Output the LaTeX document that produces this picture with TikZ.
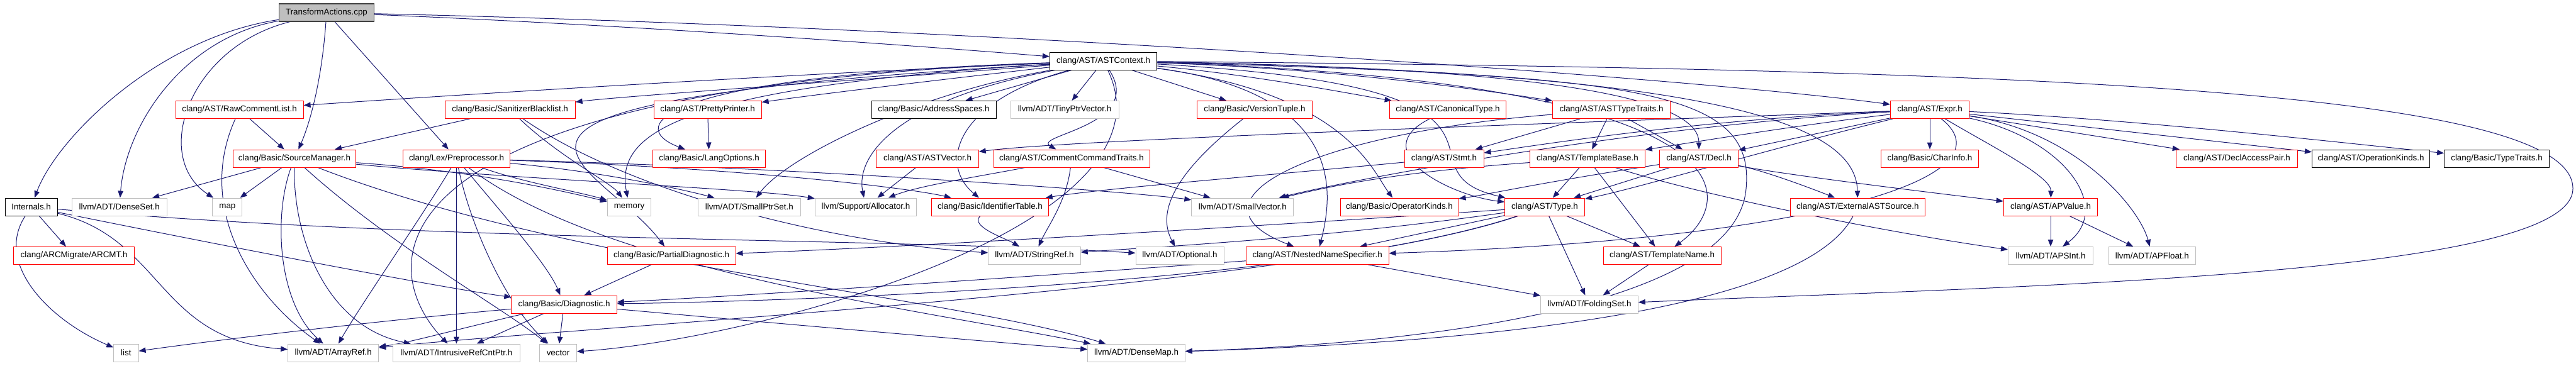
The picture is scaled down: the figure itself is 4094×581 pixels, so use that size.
\documentclass[tikz,border=0pt]{standalone}
\usepackage{fontspec}
\setmainfont{Liberation Sans}
\usetikzlibrary{arrows.meta}
\definecolor{edgec}{HTML}{191970}
\definecolor{grayb}{HTML}{BFBFBF}
\definecolor{redb}{HTML}{FF0000}
\definecolor{mainf}{HTML}{BFBFBF}
\pgfdeclarelayer{edges}
\pgfsetlayers{edges,main}
\begin{document}
\begin{tikzpicture}[x=1pt,y=-1pt,
  nd/.style={draw, rectangle, minimum height=28pt, inner sep=0pt, fill=white,
    font=\fontsize{13.4}{16}\selectfont, line width=1pt},
  rd/.style={nd, draw=redb},
  gr/.style={nd, draw=grayb},
  bk/.style={nd, draw=black},
  mn/.style={nd, draw=black!75, fill=mainf, line width=1.4pt},
  e/.style={draw=edgec, line width=1pt, -{Triangle[length=11pt,width=8.5pt]}},
]
\useasboundingbox (0,0) rectangle (4094,581);
% row 0
\node[mn, minimum width=151pt] (ta) at (519,20) {TransformActions.cpp};
% row 1
\node[bk, minimum width=170.5pt] (ctx) at (1753.6,97) {clang/AST/ASTContext.h};
% row 2
\node[rd, minimum width=203pt] (rcl) at (380.6,174.5) {clang/AST/RawCommentList.h};
\node[rd, minimum width=207pt] (sbl) at (810.6,174.5) {clang/Basic/SanitizerBlacklist.h};
\node[rd, minimum width=171pt] (pp) at (1124.6,174.5) {clang/AST/PrettyPrinter.h};
\node[bk, minimum width=198pt] (as) at (1484,174.5) {clang/Basic/AddressSpaces.h};
\node[gr, minimum width=172pt] (tpv) at (1692,174.5) {llvm/ADT/TinyPtrVector.h};
\node[rd, minimum width=183pt] (vt) at (1994,174.5) {clang/Basic/VersionTuple.h};
\node[rd, minimum width=185pt] (ct) at (2301,174.5) {clang/AST/CanonicalType.h};
\node[rd, minimum width=187pt] (att) at (2561,174.5) {clang/AST/ASTTypeTraits.h};
\node[rd, minimum width=125pt] (expr) at (3067,174.5) {clang/AST/Expr.h};
% row 3
\node[rd, minimum width=195.5pt] (sm) at (468,252) {clang/Basic/SourceManager.h};
\node[rd, minimum width=170pt] (pre) at (725.6,252) {clang/Lex/Preprocessor.h};
\node[rd, minimum width=178.5pt] (lo) at (1127,252) {clang/Basic/LangOptions.h};
\node[rd, minimum width=162.5pt] (astv) at (1474,252) {clang/AST/ASTVector.h};
\node[rd, minimum width=248pt] (cct) at (1703,252) {clang/AST/CommentCommandTraits.h};
\node[rd, minimum width=126pt] (stmt) at (2295,252) {clang/AST/Stmt.h};
\node[rd, minimum width=182.6pt] (tb) at (2523,252) {clang/AST/TemplateBase.h};
\node[rd, minimum width=125pt] (decl) at (2700,252) {clang/AST/Decl.h};
\node[rd, minimum width=155pt] (ci) at (3067,252) {clang/Basic/CharInfo.h};
\node[rd, minimum width=192.6pt] (dap) at (3555,252) {clang/AST/DeclAccessPair.h};
\node[bk, minimum width=187pt] (opk2) at (3768,252) {clang/AST/OperationKinds.h};
\node[bk, minimum width=166.7pt] (tt) at (3968,252) {clang/Basic/TypeTraits.h};
% row 4
\node[bk, minimum width=83pt] (int) at (49.6,329) {Internals.h};
\node[gr, minimum width=151pt] (ds) at (189.7,329) {llvm/ADT/DenseSet.h};
\node[gr, minimum width=47pt] (map) at (361.4,329) {map};
\node[gr, minimum width=69.6pt] (mem) at (1000,329) {memory};
\node[gr, minimum width=162.5pt] (spt) at (1190.8,329) {llvm/ADT/SmallPtrSet.h};
\node[gr, minimum width=161.4pt] (alloc) at (1376,329) {llvm/Support/Allocator.h};
\node[rd, minimum width=186.2pt] (it) at (1573.5,329) {clang/Basic/IdentifierTable.h};
\node[gr, minimum width=162pt] (sv) at (1974.8,329) {llvm/ADT/SmallVector.h};
\node[rd, minimum width=188pt] (opk) at (2224,329) {clang/Basic/OperatorKinds.h};
\node[rd, minimum width=127pt] (type) at (2455,329) {clang/AST/Type.h};
\node[rd, minimum width=213.4pt] (eas) at (2952.4,329) {clang/AST/ExternalASTSource.h};
\node[rd, minimum width=149.6pt] (apv) at (3259,329) {clang/AST/APValue.h};
% row 5
\node[rd, minimum width=192.4pt] (arcmt) at (117.6,406.5) {clang/ARCMigrate/ARCMT.h};
\node[rd, minimum width=204pt] (pd) at (1067,406.5) {clang/Basic/PartialDiagnostic.h};
\node[gr, minimum width=146.4pt] (sr) at (1644,406.5) {llvm/ADT/StringRef.h};
\node[gr, minimum width=140pt] (opt) at (1875,406.5) {llvm/ADT/Optional.h};
\node[rd, minimum width=226.6pt] (nns) at (2093.7,406.5) {clang/AST/NestedNameSpecifier.h};
\node[rd, minimum width=187pt] (tn) at (2641.6,406.5) {clang/AST/TemplateName.h};
\node[gr, minimum width=135pt] (apsi) at (3259,406.5) {llvm/ADT/APSInt.h};
\node[gr, minimum width=138.8pt] (apf) at (3420.4,406.5) {llvm/ADT/APFloat.h};
% row 6
\node[rd, minimum width=167.4pt] (diag) at (896.5,484) {clang/Basic/Diagnostic.h};
\node[gr, minimum width=154.5pt] (fs) at (2526,484) {llvm/ADT/FoldingSet.h};
% row 7
\node[gr, minimum width=39.3pt] (list) at (200.4,561) {list};
\node[gr, minimum width=144pt] (ar) at (529.7,561) {llvm/ADT/ArrayRef.h};
\node[gr, minimum width=201.6pt] (ircp) at (725.4,561) {llvm/ADT/IntrusiveRefCntPtr.h};
\node[gr, minimum width=58.5pt] (vec) at (887,561) {vector};
\node[gr, minimum width=154.5pt] (dm) at (1806,561) {llvm/ADT/DenseMap.h};

\begin{pgfonlayer}{edges}
% TransformActions.cpp
\draw[e] (ta) .. controls (250,60) and (90,220) .. (int);
\draw[e] (ta) .. controls (290,60) and (200,200) .. (ds);
\draw[e] (ta) .. controls (300,75) and (240,250) .. (map);
\draw[e] (ta) .. controls (512,120) and (495,190) .. (sm);
\draw[e] (ta) -- (pre);
\draw[e] (ta) .. controls (1000,40) and (1450,72) .. (ctx);
\draw[e] (ta) .. controls (1600,45) and (2700,125) .. (expr);
% Internals.h
\draw[e] (int) -- (arcmt);
\draw[e] (int) .. controls (-10,420) and (80,510) .. (list);
\draw[e] (int) .. controls (260,380) and (250,540) .. (ar);
\draw[e] (int) .. controls (700,385) and (1400,378) .. (opt);
\draw[e] (int) .. controls (450,410) and (720,460) .. (diag);
% RawCommentList.h
\draw[e] (rcl) -- (sm);
\draw[e] (rcl) .. controls (310,330) and (400,470) .. (ar);
% SourceManager.h
\draw[e] (sm) -- (ds);
\draw[e] (sm) -- (map);
\draw[e] (sm) .. controls (435,340) and (440,480) .. (ar);
\draw[e] (sm) .. controls (466,380) and (520,520) .. (ircp);
\draw[e] (sm) .. controls (620,390) and (800,490) .. (vec);
\draw[e] (sm) .. controls (900,420) and (1500,470) .. (dm);
\draw[e] (sm) .. controls (760,272) and (900,305) .. (mem);
\draw[e] (sm) .. controls (820,285) and (1200,300) .. (alloc);
% SanitizerBlacklist.h
\draw[e] (sbl) -- (sm);
\draw[e] (sbl) .. controls (890,250) and (970,290) .. (mem);
\draw[e] (sbl) .. controls (990,300) and (1300,385) .. (sr);
% PrettyPrinter.h
\draw[e] (pp) -- (lo);
% Preprocessor.h
\draw[e] (pre) .. controls (680,330) and (570,490) .. (ar);
\draw[e] (pre) -- (ircp);
\draw[e] (pre) .. controls (745,350) and (800,480) .. (vec);
\draw[e] (pre) .. controls (790,330) and (870,420) .. (diag);
\draw[e] (pre) .. controls (830,290) and (920,305) .. (mem);
\draw[e] (pre) .. controls (960,430) and (1450,490) .. (dm);
\draw[e] (pre) .. controls (950,272) and (1080,300) .. (spt);
\draw[e] (pre) .. controls (1200,268) and (1450,300) .. (it);
\draw[e] (pre) .. controls (1300,268) and (1800,305) .. (sv);
% ASTContext.h, left side
\draw[e] (ctx) .. controls (1200,120) and (620,158) .. (rcl);
\draw[e] (ctx) .. controls (1400,125) and (1000,152) .. (sbl);
\draw[e] (ctx) .. controls (1450,132) and (1300,150) .. (pp);
\draw[e] (ctx) .. controls (1050,120) and (990,200) .. (lo);
\draw[e] (ctx) .. controls (1050,140) and (980,220) .. (mem);
\draw[e] (ctx) .. controls (580,140) and (590,420) .. (ircp);
\draw[e] (ctx) .. controls (600,165) and (950,250) .. (pd);
\draw[e] (ctx) .. controls (1420,160) and (1360,250) .. (alloc);
\draw[e] (ctx) .. controls (1450,150) and (1250,250) .. (spt);
\draw[e] (ctx) .. controls (1520,160) and (1490,260) .. (it);
\draw[e] (ctx) -- (as);
\draw[e] (ctx) -- (tpv);
\draw[e] (ctx) -- (vt);
\draw[e] (ctx) .. controls (1820,200) and (1640,215) .. (cct);
\draw[e] (ctx) .. controls (1880,360) and (1200,540) .. (vec);
% ASTContext.h, right side
\draw[e] (ctx) .. controls (2000,120) and (2150,150) .. (ct);
\draw[e] (ctx) .. controls (2150,110) and (2400,150) .. (att);
\draw[e] (ctx) .. controls (2700,115) and (2950,190) .. (eas);
\draw[e] (ctx) .. controls (2550,110) and (2700,170) .. (decl);
\draw[e] (ctx) .. controls (2500,140) and (2200,270) .. (type);
\draw[e] (ctx) .. controls (2150,150) and (2115,320) .. (nns);
\draw[e] (ctx) .. controls (2140,150) and (2180,270) .. (opk);
\draw[e] (ctx) .. controls (2800,130) and (2760,320) .. (tn);
\draw[e] (ctx) .. controls (2600,120) and (2790,140) .. (2775,300) .. controls (2760,480) and (2300,545) .. (dm);
\draw[e] (ctx) .. controls (3200,110) and (4090,140) .. (4089,300) .. controls (4089,440) and (3200,455) .. (fs);
% smaller headers
\draw[e] (astv) -- (alloc);
\draw[e] (cct) .. controls (1560,280) and (1460,295) .. (alloc);
\draw[e] (cct) .. controls (1695,320) and (1665,360) .. (sr);
\draw[e] (cct) -- (sv);
\draw[e] (vt) .. controls (1860,280) and (1840,340) .. (opt);
\draw[e] (ct) .. controls (2170,240) and (2300,310) .. (type);
\draw[e] (att) -- (stmt);
\draw[e] (att) -- (tb);
\draw[e] (att) -- (decl);
\draw[e] (att) .. controls (2080,213) and (1870,320) .. (nns);
% Expr.h
\draw[e] (expr) .. controls (2700,190) and (2450,230) .. (stmt);
\draw[e] (expr) .. controls (2850,200) and (2700,225) .. (tb);
\draw[e] (expr) -- (decl);
\draw[e] (expr) .. controls (2800,240) and (2600,300) .. (type);
\draw[e] (expr) .. controls (2600,200) and (2150,285) .. (sv);
\draw[e] (expr) .. controls (2500,195) and (1700,222) .. (astv);
\draw[e] (expr) .. controls (3200,280) and (2900,380) .. (nns);
\draw[e] (expr) -- (ci);
\draw[e] (expr) -- (dap);
\draw[e] (expr) -- (opk2);
\draw[e] (expr) .. controls (3400,190) and (3750,230) .. (tt);
\draw[e] (expr) .. controls (3160,230) and (3260,280) .. (apv);
\draw[e] (expr) .. controls (3280,220) and (3360,330) .. (apsi);
\draw[e] (expr) .. controls (3300,210) and (3400,330) .. (apf);
% others
\draw[e] (it) .. controls (1540,360) and (1600,380) .. (sr);
\draw[e] (stmt) .. controls (2000,280) and (1750,300) .. (it);
\draw[e] (tb) .. controls (2200,275) and (2100,300) .. (sv);
\draw[e] (tb) -- (type);
\draw[e] (tb) -- (tn);
\draw[e] (tb) .. controls (2700,310) and (3000,370) .. (apsi);
\draw[e] (decl) -- (type);
\draw[e] (decl) .. controls (2800,270) and (2880,300) .. (eas);
\draw[e] (decl) .. controls (2850,280) and (3100,310) .. (apv);
\draw[e] (decl) .. controls (2450,290) and (2360,310) .. (opk);
\draw[e] (type) -- (nns);
\draw[e] (type) -- (tn);
\draw[e] (type) -- (fs);
\draw[e] (type) .. controls (2000,360) and (1400,395) .. (pd);
\draw[e] (type) .. controls (2100,380) and (1800,395) .. (sr);
\draw[e] (type) .. controls (2070,457) and (1200,480) .. (diag);
\draw[e] (type) .. controls (2070,460) and (900,520) .. (ar);
\draw[e] (nns) .. controls (1500,450) and (1100,475) .. (diag);
\draw[e] (nns) -- (fs);
\draw[e] (tn) -- (fs);
\draw[e] (eas) .. controls (2880,470) and (2500,540) .. (dm);
\draw[e] (apv) -- (apsi);
\draw[e] (apv) -- (apf);
\draw[e] (pd) -- (diag);
\draw[e] (diag) .. controls (600,510) and (350,540) .. (list);
\draw[e] (diag) .. controls (700,530) and (650,545) .. (ar);
\draw[e] (diag) -- (ircp);
\draw[e] (diag) -- (vec);
\draw[e] (diag) .. controls (1300,520) and (1650,550) .. (dm);
\end{pgfonlayer}
\end{tikzpicture}
\end{document}
